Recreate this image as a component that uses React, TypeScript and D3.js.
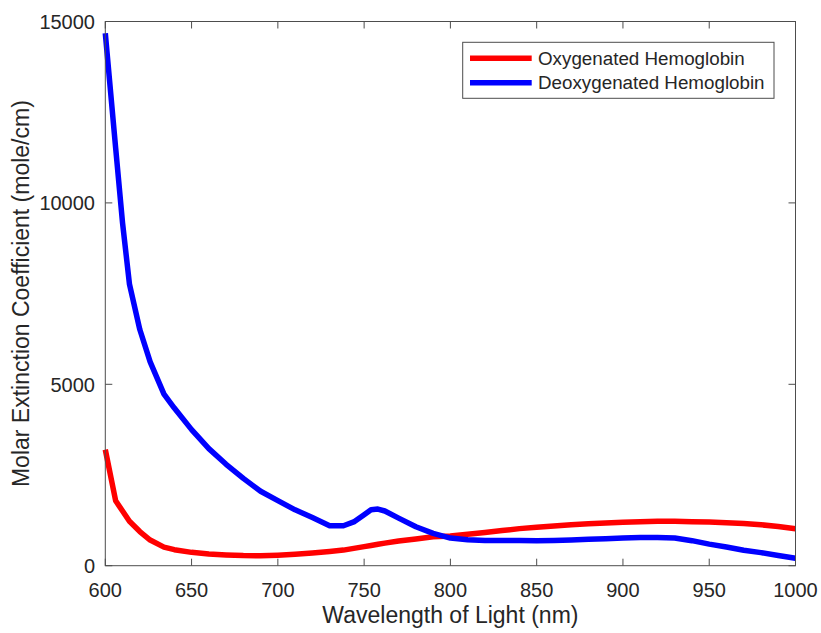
import React from "react";
import * as d3 from "d3";

const wavelength = [600, 606, 610, 614, 620, 626, 634, 640, 650, 660, 670, 680, 690, 700, 710, 720, 730, 738, 744, 750, 754, 758, 762, 770, 780, 790, 800, 810, 820, 830, 840, 850, 860, 870, 880, 890, 900, 910, 920, 930, 940, 950, 960, 970, 980, 990, 1000];

const oxygenated = [3200, 1789, 1506, 1223, 942, 708, 512, 442, 368, 320, 294, 278, 276, 290, 314, 348, 390, 430, 478, 526, 558, 590, 622, 679, 738, 798, 816, 864, 916, 968, 1022, 1058, 1092, 1128, 1154, 1178, 1198, 1214, 1224, 1222, 1214, 1204, 1186, 1162, 1128, 1080, 1016];

const deoxygenated = [14677, 11513, 9444, 7762, 6510, 5620, 4731, 4345, 3750, 3227, 2795, 2408, 2052, 1794, 1540, 1326, 1102, 1100, 1207, 1405, 1542, 1560, 1508, 1312, 1075, 891, 762, 717, 693, 693, 692, 691, 694, 706, 726, 744, 762, 775, 777, 764, 690, 595, 515, 425, 360, 283, 207];

const xTicks = [600, 650, 700, 750, 800, 850, 900, 950, 1000];
const yTicks = [0, 5000, 10000, 15000];

const seriesNames = ["Oxygenated Hemoglobin", "Deoxygenated Hemoglobin"];
const seriesColors = ["#ff0000", "#0000ff"];

const W = 821;
const H = 633;
const FONT = "'Liberation Sans', Arial, Helvetica, sans-serif";
const AXIS = "#4d4d4d";
const TEXT = "#262626";

export default function App() {
  const left = 105.3, right = 795.5, top = 21.5, bottom = 565.7;
  const x = d3.scaleLinear().domain([600, 1000]).range([left, right]);
  const y = d3.scaleLinear().domain([0, 15000]).range([bottom, top]);

  const line = d3
    .line<[number, number]>()
    .x((d) => x(d[0]))
    .y((d) => y(d[1]))
    .curve(d3.curveLinear);

  const series = [oxygenated, deoxygenated].map((vals) =>
    wavelength.map((w, i) => [w, vals[i]] as [number, number])
  );

  const tickLen = 7;
  const lx = 462.7, ly = 42.3, lw = 311.3, lh = 56;

  return (
    <svg
      width={W}
      height={H}
      style={{ position: "absolute", left: 0, top: 0, display: "block", background: "#fff" }}
      fontFamily={FONT}
    >
      <rect x={0} y={0} width={W} height={H} fill="#fff" />
      {/* data lines */}
      {series.map((s, i) => (
        <path
          key={i}
          d={line(s) || ""}
          fill="none"
          stroke={seriesColors[i]}
          strokeWidth={5.5}
          strokeLinejoin="round"
        />
      ))}
      {/* axes box */}
      <rect x={left} y={top} width={right - left} height={bottom - top} fill="none" stroke={AXIS} strokeWidth={1} />
      {/* x ticks */}
      {xTicks.map((t) => (
        <g key={"x" + t}>
          <line x1={x(t)} x2={x(t)} y1={bottom} y2={bottom - tickLen} stroke={AXIS} />
          <line x1={x(t)} x2={x(t)} y1={top} y2={top + tickLen} stroke={AXIS} />
          <text x={x(t)} y={597} fontSize={20} fill={TEXT} textAnchor="middle">
            {t}
          </text>
        </g>
      ))}
      {/* y ticks */}
      {yTicks.map((t) => (
        <g key={"y" + t}>
          <line x1={left} x2={left + tickLen} y1={y(t)} y2={y(t)} stroke={AXIS} />
          <line x1={right} x2={right - tickLen} y1={y(t)} y2={y(t)} stroke={AXIS} />
          <text x={95} y={y(t) + 7.5} fontSize={20} fill={TEXT} textAnchor="end">
            {t}
          </text>
        </g>
      ))}
      {/* axis titles */}
      <text x={(left + right) / 2} y={623} fontSize={23} fill={TEXT} textAnchor="middle">
        Wavelength of Light (nm)
      </text>
      <text
        transform={`translate(29, ${(top + bottom) / 2}) rotate(-90)`}
        fontSize={23}
        fill={TEXT}
        textAnchor="middle"
      >
        Molar Extinction Coefficient (mole/cm)
      </text>
      {/* legend */}
      <rect x={lx} y={ly} width={lw} height={lh} fill="#fff" stroke={AXIS} strokeWidth={1} />
      {seriesNames.map((name, i) => {
        const cy = 58.3 + i * 24.4;
        return (
          <g key={name}>
            <line x1={470} x2={531.7} y1={cy} y2={cy} stroke={seriesColors[i]} strokeWidth={5.5} />
            <text x={538} y={cy + 6.6} fontSize={18.8} fill={TEXT}>
              {name}
            </text>
          </g>
        );
      })}
    </svg>
  );
}
